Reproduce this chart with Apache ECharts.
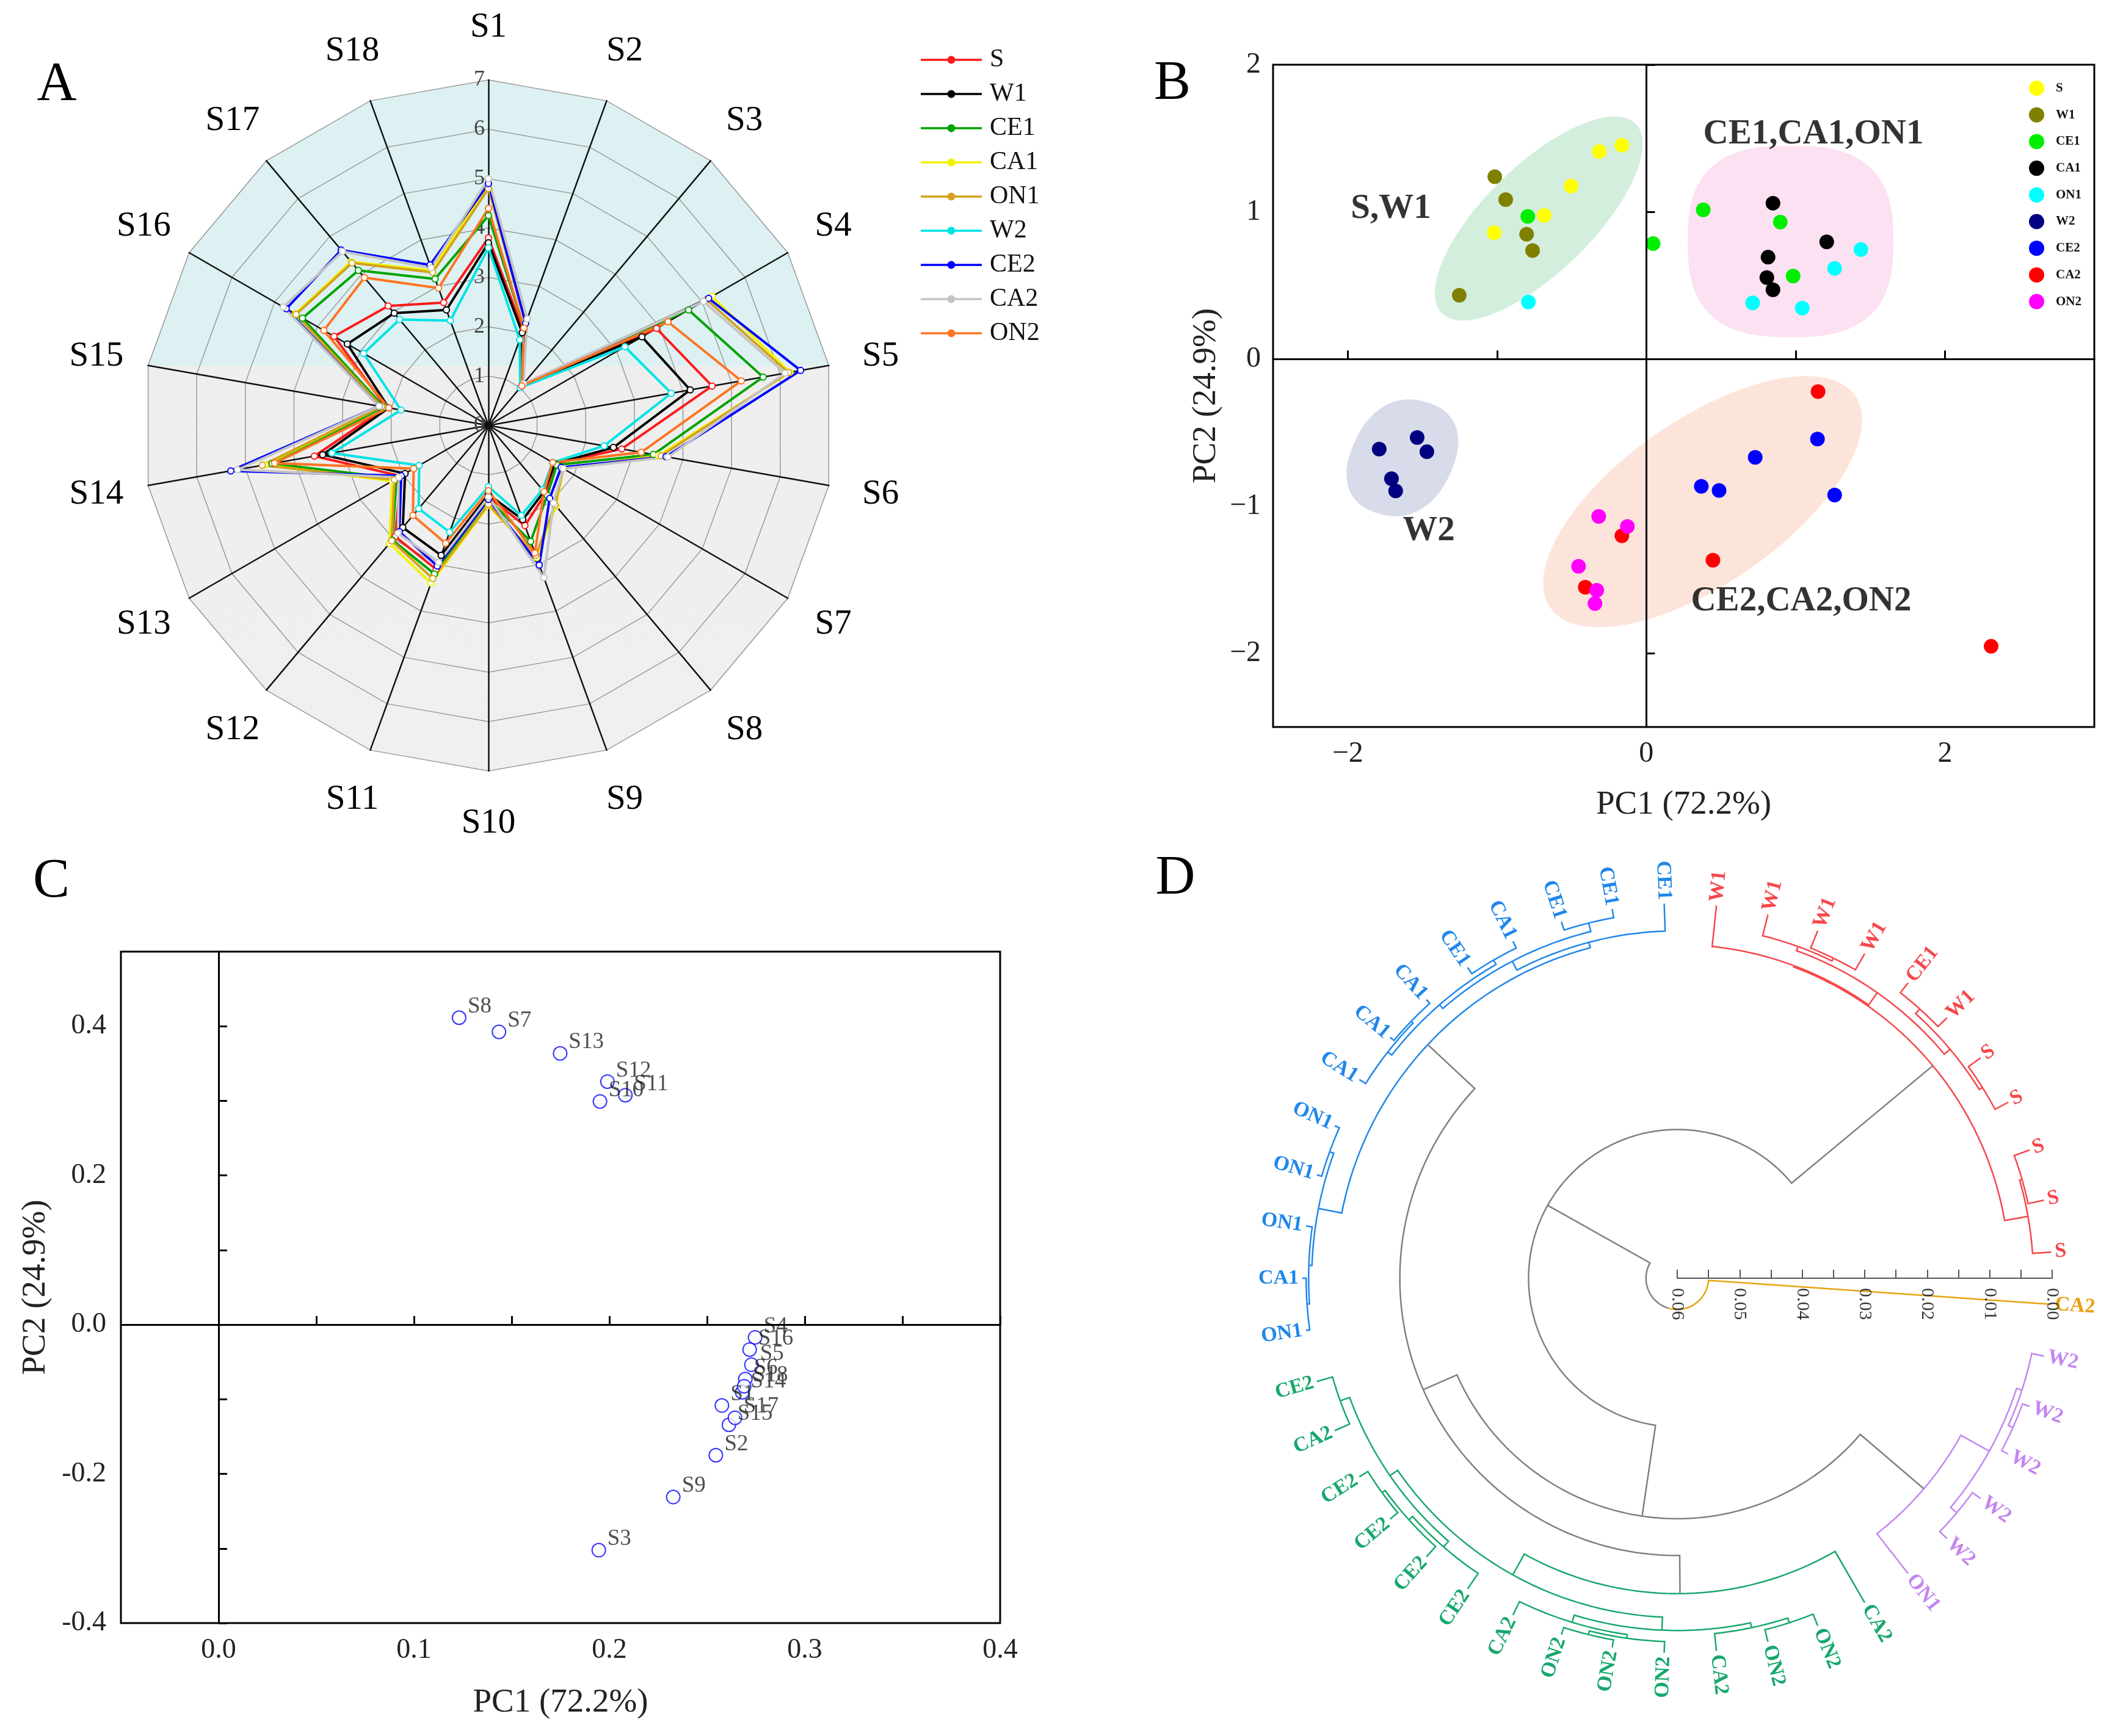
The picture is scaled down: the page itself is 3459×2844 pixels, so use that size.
<!DOCTYPE html>
<html><head><meta charset="utf-8">
<script src="https://cdn.jsdelivr.net/npm/echarts@6/dist/echarts.min.js"></script>
<style>html,body{margin:0;padding:0;background:#fff}#c{width:3459px;height:2844px}</style>
</head><body><div id="c"></div>
<script>
const SERIF = '"Liberation Serif","Times New Roman",serif';

// ---------- Panel A : radar ----------
const radarAxes = ['S1','S2','S3','S4','S5','S6','S7','S8','S9','S10','S11','S12','S13','S14','S15','S16','S17','S18'];
const groups = ['S','W1','CE1','CA1','ON1','W2','CE2','CA2','ON2'];
const radarS   = [3.8, 2.05, 1.05, 3.93, 4.6, 2.74, 1.55, 1.8, 2.16, 1.45, 3.1, 2.94, 2.05, 3.58, 2.1, 3.61, 3.16, 2.65];
const radarW1  = [3.7, 2.0, 1.05, 3.59, 4.15, 2.57, 1.55, 1.75, 2.03, 1.4, 2.8, 2.7, 1.95, 3.41, 2.05, 3.3, 2.97, 2.49];
const radarCE1 = [4.25, 2.1, 1.05, 4.68, 5.65, 3.39, 1.6, 1.85, 2.5, 1.5, 3.2, 3.03, 2.15, 4.45, 2.15, 4.35, 4.1, 3.16];
const radarCA1 = [4.9, 2.2, 1.05, 5.23, 6.2, 3.5, 1.75, 2.13, 2.85, 1.62, 3.4, 3.12, 2.25, 4.6, 2.2, 4.52, 4.33, 3.34];
const radarON1 = [4.8, 2.2, 1.05, 5.1, 6.17, 3.55, 1.75, 2.1, 2.8, 1.6, 3.3, 3.05, 2.2, 4.65, 2.2, 4.5, 4.3, 3.3];
const radarW2  = [3.6, 1.85, 1.0, 3.19, 3.76, 2.38, 1.5, 1.7, 1.94, 1.24, 2.3, 2.2, 1.62, 3.22, 1.8, 2.92, 2.8, 2.26];
const radarCE2 = [4.9, 2.2, 1.05, 5.15, 6.42, 3.65, 1.7, 1.93, 3.01, 1.5, 3.03, 2.81, 2.04, 5.3, 2.25, 4.73, 4.64, 3.46];
const radarCA2 = [5.0, 2.3, 1.1, 5.03, 6.1, 3.69, 1.75, 2.05, 3.28, 1.45, 2.95, 2.85, 2.1, 5.16, 2.25, 4.8, 4.6, 3.4];
const radarON2 = [4.4, 2.1, 1.05, 4.2, 5.2, 3.14, 1.5, 1.75, 2.75, 1.32, 2.54, 2.38, 1.75, 4.4, 2.05, 3.85, 3.91, 2.96];
const radarValues = [radarS, radarW1, radarCE1, radarCA1, radarON1, radarW2, radarCE2, radarCA2, radarON2];
const radarColors = ['#ff1a1a','#000000','#00a400','#f2f200','#d4a11c','#00e3e3','#0000ff','#c4c4c4','#ff7420'];

// ---------- Panel B : PCA scores ----------
const scoreS   = [[-0.315,1.41],[-0.164,1.453],[-0.504,1.176],[-0.684,0.976],[-1.019,0.858]];
const scoreW1  = [[-1.015,1.239],[-0.942,1.083],[-0.802,0.848],[-0.762,0.737],[-1.253,0.433]];
const scoreCE1 = [[-0.794,0.969],[0.045,0.785],[0.381,1.014],[0.897,0.931],[0.983,0.564]];
const scoreCA1 = [[0.848,1.059],[0.815,0.692],[0.807,0.554],[0.848,0.471],[1.208,0.796]];
const scoreON1 = [[-0.790,0.388],[0.712,0.381],[1.044,0.346],[1.261,0.616],[1.437,0.744]];
const scoreW2  = [[-1.789,-0.612],[-1.535,-0.533],[-1.470,-0.630],[-1.707,-0.813],[-1.679,-0.896]];
const scoreCE2 = [[0.368,-0.865],[0.487,-0.893],[0.729,-0.668],[1.146,-0.543],[1.261,-0.924]];
const scoreCA2 = [[1.150,-0.221],[-0.164,-1.201],[0.446,-1.367],[-0.409,-1.550],[2.309,-1.952]];
const scoreON2 = [[-0.319,-1.069],[-0.127,-1.138],[-0.454,-1.408],[-0.332,-1.571],[-0.344,-1.661]];
const scores = [scoreS, scoreW1, scoreCE1, scoreCA1, scoreON1, scoreW2, scoreCE2, scoreCA2, scoreON2];
const scoreColors = ['#ffff00','#808000','#00ee00','#000000','#00ffff','#000080','#0000ff','#ff0000','#ff00ff'];
// cluster regions: centre, half-axis u, half-axis v, squareness exponent
const regionCentres = [[-0.7206,0.955],[0.966,0.799],[-1.634,-0.671],[0.3767,-0.969]];
const regionAxisU = [[0.6264,0.662],[0.688,0],[0.164,0.377],[0.9838,0.7626]];
const regionAxisV = [[0.3038,-0.2055],[0,0.65],[0.3228,-0.1003],[0.4151,-0.3827]];
const regionPower = [2, 2.7, 2.3, 2];
const regionFill = ['#d4eedd','#fbe1f1','#d8dbea','#fde4da'];
const clusterNames = ['S,W1','CE1,CA1,ON1','W2','CE2,CA2,ON2'];
const clusterNamePos = [[-1.711,1.022],[1.119,1.526],[-1.457,-1.169],[1.037,-1.647]];

// ---------- Panel C : loadings ----------
const loadNames = radarAxes;
const loadPC1 = [0.2576,0.2545,0.1946,0.2746,0.2727,0.2696,0.1435,0.1231,0.2327,0.1952,0.2082,0.1990,0.1748,0.2680,0.2612,0.2718,0.2643,0.2690];
const loadPC2 = [-0.1084,-0.175,-0.3023,-0.017,-0.0538,-0.0729,0.3924,0.4114,-0.2311,0.2992,0.3076,0.3258,0.3636,-0.0907,-0.1343,-0.0334,-0.1248,-0.0825];

// ---------- Panel D : circular dendrogram ----------
const leafLabels = ['CA2','W2','W2','W2','W2','W2','ON1','CA2','ON2','ON2','CA2','ON2','ON2','ON2','CA2',
  'CE2','CE2','CE2','CE2','CA2','CE2','ON1','CA1','ON1','ON1','ON1','CA1','CA1','CA1','CE1','CA1','CE1','CE1','CE1',
  'W1','W1','W1','W1','CE1','W1','S','S','S','S','S'];
// [node, child, child, height]; numbers are leaf indices
const merges = [
 ['w2a',2,3,0.0012],['w2b',1,'w2a',0.0020],['w2c',4,5,0.0016],['w2','w2b','w2c',0.0029],['purple','w2',6,0.0081],
 ['p1',8,9,0.0020],['p2','p1',10,0.0028],['p3',12,13,0.0012],['p4',11,'p3',0.0018],['p5','p4',14,0.0024],['gH','p2','p5',0.0036],
 ['q2',17,18,0.0016],['q3',16,'q2',0.0022],['q4',15,'q3',0.0030],['q1',19,20,0.0026],['gI','q4','q1',0.0042],
 ['gG','gH','gI',0.0057],['green',7,'gG',0.0095],
 ['c1',21,22,0.0006],['c2','c1',23,0.0010],['c3',24,25,0.0008],['c4','c2','c3',0.0015],
 ['x1a',27,28,0.0008],['x1b',26,'x1a',0.0012],['x1c',29,30,0.0012],['x1','x1b','x1c',0.0020],['x2',31,32,0.0014],
 ['bx','x1','x2',0.0028],['bh','bx',33,0.0044],['blue','c4','bh',0.0053],
 ['r1',36,37,0.0030],['r2',35,'r1',0.0035],['r3',38,39,0.0020],['r4',40,41,0.0024],['r5','r3','r4',0.0030],
 ['r6','r2','r5',0.0042],['rz',34,'r6',0.0066],['s1',42,43,0.0026],['s2','s1',44,0.0030],['red','rz','s2',0.0068],
 ['E','green','blue',0.0156],['C','purple','E',0.0215],['A','C','red',0.0362],['root',0,'A',0.0550]
];
const dColors = ['#808080','#f5474b','#1f87ea','#17a86c','#c486ef','#e8a10c'];
const clusterColorIdx = {red:1, blue:2, green:3, purple:4};

// ---- tree layout (positions from leaf order) ----
const nodes = {};
leafLabels.forEach((l,i)=>{ nodes[i] = {leaf:true, h:0, pos:i}; });
merges.forEach(m=>{ nodes[m[0]] = {leaf:false, name:m[0], kids:[m[1],m[2]], h:m[3]}; });
function posOf(k){ const n=nodes[k]; if(n.pos===undefined) n.pos=(posOf(n.kids[0])+posOf(n.kids[1]))/2; return n.pos; }
function paint(k,col){ const n=nodes[k]; if(!n.leaf && clusterColorIdx[n.name]!==undefined) col=clusterColorIdx[n.name];
  n.col = (n.leaf && col===0) ? 5 : col; if(!n.leaf) n.kids.forEach(c=>paint(c,col)); }
posOf('root'); paint('root',0);
const edges = [];
merges.forEach(m=>{ const n=nodes[m[0]]; n.kids.forEach(c=>{ const ch=nodes[c];
  const col = n.col!==0 ? n.col : (ch.leaf ? ch.col : 0);
  edges.push([n.h, n.pos, ch.pos, ch.h, col]); }); });

const radarOrder = [0].concat(Array.from({length:17},(_,k)=>17-k)); // clockwise layout

const splitGrad = {type:'linear', x:0, y:0, x2:0, y2:2844, global:true,
  colorStops:[{offset:0,color:'#ddf1f3'},{offset:0.2106,color:'#ddf1f3'},{offset:0.2106,color:'#eeeeee'},{offset:1,color:'#f4f4f4'}]};

const chart = echarts.init(document.getElementById('c'));
const minus = v => v<0 ? '\u2212'+Math.abs(v) : String(v);

const option = {
  animation:false,
  backgroundColor:'#fff',
  textStyle:{fontFamily:SERIF},
  graphic:[
    {type:'text', x:93, y:140, style:{text:'A', font:'90px '+SERIF, fill:'#000', align:'center', verticalAlign:'middle'}},
    {type:'text', x:1920, y:138, style:{text:'B', font:'90px '+SERIF, fill:'#000', align:'center', verticalAlign:'middle'}},
    {type:'text', x:84, y:1445, style:{text:'C', font:'90px '+SERIF, fill:'#000', align:'center', verticalAlign:'middle'}},
    {type:'text', x:1925, y:1440, style:{text:'D', font:'90px '+SERIF, fill:'#000', align:'center', verticalAlign:'middle'}}
  ],
  legend:[
    {data:groups, orient:'vertical', left:1503, top:72, itemWidth:100, itemHeight:13, itemGap:14, selectedMode:false,
     icon:'path://M0,1.9H40V3.3H0Z M22.6,2.6A2.6,2.6 0 1 1 17.4,2.6A2.6,2.6 0 1 1 22.6,2.6Z',
     textStyle:{fontFamily:SERIF, fontSize:42, color:'#111', padding:[0,0,0,8]}},
    {data:groups.map(g=>'B:'+g), formatter:n=>n.slice(2), orient:'vertical', left:3318, top:127, itemWidth:25, itemHeight:25,
     itemGap:18.7, icon:'circle', selectedMode:false,
     textStyle:{fontFamily:SERIF, fontSize:21, fontWeight:'bold', color:'#111', padding:[0,0,0,14]}}
  ],
  radar:{
    center:[800,697], radius:566, startAngle:90, splitNumber:7, shape:'polygon',
    indicator: radarOrder.map((k,j)=>{ const o={name:radarAxes[k], min:0, max:7}; if(j===0) o.axisLabel={show:true}; return o; }),
    axisName:{color:'#000', fontSize:57, fontFamily:SERIF, align:'center', verticalAlign:'middle'},
    nameGap:86,
    axisLine:{lineStyle:{color:'#111', width:2.5}},
    splitLine:{lineStyle:{color:'#9a9a9a', width:1.5}},
    splitArea:{show:true, areaStyle:{color:[splitGrad]}},
    axisTick:{show:false},
    axisLabel:{show:false, fontSize:36, color:'#444', fontFamily:SERIF, margin:6}
  },
  grid:[
    {left:2085, top:106, width:1345, height:1085, show:true, borderColor:'#000', borderWidth:3, backgroundColor:'transparent'},
    {left:198, top:1559, width:1440, height:1100, show:true, borderColor:'#000', borderWidth:3, backgroundColor:'transparent'}
  ],
  xAxis:[
    {gridIndex:0, type:'value', min:-2.5, max:3, interval:0.5,
     name:'PC1 (72.2%)', nameLocation:'middle', nameGap:100, nameTextStyle:{fontSize:55, fontFamily:SERIF, color:'#222'},
     axisLine:{lineStyle:{color:'#000', width:3}},
     axisTick:{inside:true, length:14, lineStyle:{color:'#000', width:3}, customValues:[-2,-1,0,1,2]},
     axisLabel:{fontSize:48, fontFamily:SERIF, color:'#222', margin:20, customValues:[-2,0,2],
       formatter:v=>([-2,0,2].indexOf(v)>=0 ? minus(v) : '')},
     splitLine:{show:false}},
    {gridIndex:1, type:'value', min:-0.05, max:0.4, interval:0.05,
     name:'PC1 (72.2%)', nameLocation:'middle', nameGap:103, nameTextStyle:{fontSize:55, fontFamily:SERIF, color:'#222'},
     axisLine:{lineStyle:{color:'#000', width:3}},
     axisTick:{inside:true, length:14, lineStyle:{color:'#000', width:3}, customValues:[0,0.05,0.1,0.15,0.2,0.25,0.3,0.35,0.4]},
     axisLabel:{fontSize:46, fontFamily:SERIF, color:'#222', margin:22, customValues:[0,0.1,0.2,0.3,0.4],
       formatter:v=>(Math.abs(Math.round(v*100))%10===0 && v>-0.001 ? v.toFixed(1) : '')},
     splitLine:{show:false}}
  ],
  yAxis:[
    {gridIndex:0, type:'value', min:-2.5, max:2, interval:0.5,
     name:'PC2 (24.9%)', nameLocation:'middle', nameGap:82, nameRotate:90, nameTextStyle:{fontSize:55, fontFamily:SERIF, color:'#222'},
     axisLine:{lineStyle:{color:'#000', width:3}},
     axisTick:{inside:true, length:14, lineStyle:{color:'#000', width:3}, customValues:[-2,-1,0,1,2]},
     axisLabel:{fontSize:48, fontFamily:SERIF, color:'#222', margin:20, customValues:[-2,-1,0,1,2],
       formatter:v=>(Math.abs(v%1)<1e-9 && v>=-2 ? minus(v) : '')},
     splitLine:{show:false}},
    {gridIndex:1, type:'value', min:-0.4, max:0.5, interval:0.1,
     name:'PC2 (24.9%)', nameLocation:'middle', nameGap:112, nameRotate:90, nameTextStyle:{fontSize:55, fontFamily:SERIF, color:'#222'},
     axisLine:{lineStyle:{color:'#000', width:3}},
     axisTick:{inside:true, length:14, lineStyle:{color:'#000', width:3}, customValues:[-0.4,-0.3,-0.2,-0.1,0,0.1,0.2,0.3,0.4]},
     axisLabel:{fontSize:46, fontFamily:SERIF, color:'#222', margin:24, customValues:[-0.4,-0.2,0,0.2,0.4],
       formatter:v=>(Math.abs(Math.round(v*10))%2===0 && v<0.45 ? (Math.abs(v)<1e-9?'0.0':v.toFixed(1)) : '')},
     splitLine:{show:false}}
  ],
  polar:{center:[2747,2094], radius:614},
  angleAxis:{type:'value', min:-0.5, max:44.5, startAngle:0, clockwise:true, show:false},
  radiusAxis:{type:'value', min:0, max:0.06, inverse:true, interval:0.005, z:5,
    axisLine:{show:true, lineStyle:{color:'#555', width:2}},
    axisTick:{show:true, length:14, lineStyle:{color:'#555', width:2}},
    axisLabel:{show:true, rotate:-90, fontSize:30, fontFamily:SERIF, color:'#333', margin:-16, align:'left', verticalAlign:'middle',
      formatter:v=>(Math.round(v*1000)%10===0 ? v.toFixed(2) : '')},
    splitLine:{show:false}},
  series:[]
};

// A
option.series.push({type:'radar', radarIndex:0, symbol:'emptyCircle', symbolSize:10, z:3,
  data: groups.map((g,k)=>({name:g, value: radarOrder.map(i=>radarValues[k][i]),
    lineStyle:{color:radarColors[k], width:4}, itemStyle:{color:radarColors[k], borderWidth:2}}))});

// B regions
option.series.push({type:'custom', name:'regions', xAxisIndex:0, yAxisIndex:0, z:1, silent:true,
  data: regionCentres.map((c,i)=>[c[0],c[1],i]),
  renderItem:(params,api)=>{
    const i=api.value(2), c=regionCentres[i], u=regionAxisU[i], v=regionAxisV[i], p=regionPower[i];
    const f=s=>Math.sign(s)*Math.pow(Math.abs(s),2/p);
    const pts=[];
    for(let k=0;k<160;k++){ const t=2*Math.PI*k/160, a=f(Math.cos(t)), b=f(Math.sin(t));
      pts.push(api.coord([c[0]+u[0]*a+v[0]*b, c[1]+u[1]*a+v[1]*b])); }
    return {type:'polygon', shape:{points:pts}, style:{fill:regionFill[i], stroke:null}};
  }});
option.series.push({type:'scatter', name:'zeroB', xAxisIndex:0, yAxisIndex:0, z:2, symbolSize:0, data:[[0,0]], silent:true,
  markLine:{silent:true, symbol:'none', label:{show:false}, lineStyle:{color:'#000', width:3, type:'solid'},
    data:[{xAxis:0},{yAxis:0}]}});
groups.forEach((g,k)=>{
  option.series.push({type:'scatter', name:'B:'+g, xAxisIndex:0, yAxisIndex:0, z:3, symbolSize:24,
    itemStyle:{color:scoreColors[k], opacity:1}, data:scores[k]});
});
option.series.push({type:'scatter', name:'clusterText', xAxisIndex:0, yAxisIndex:0, z:4, symbolSize:1, silent:true,
  itemStyle:{color:'rgba(0,0,0,0)'},
  data: clusterNames.map((n,i)=>({name:n, value:clusterNamePos[i]})),
  label:{show:true, position:'inside', formatter:'{b}', fontFamily:SERIF, fontWeight:'bold', fontSize:57, color:'#000'}});

// C
option.series.push({type:'scatter', name:'zeroC', xAxisIndex:1, yAxisIndex:1, z:2, symbolSize:0, data:[[0,0]], silent:true,
  markLine:{silent:true, symbol:'none', label:{show:false}, lineStyle:{color:'#000', width:3, type:'solid'},
    data:[{xAxis:0},{yAxis:0}]}});
option.series.push({type:'scatter', name:'loadings', xAxisIndex:1, yAxisIndex:1, z:3, symbol:'emptyCircle', symbolSize:22,
  itemStyle:{color:'#0000ff', borderWidth:3.5},
  data: loadNames.map((n,i)=>({name:n, value:[loadPC1[i], loadPC2[i]]})),
  label:{show:true, position:'right', distance:2, offset:[0,-18], formatter:'{b}', fontFamily:SERIF, fontSize:37, color:'#222'}});

// D
option.series.push({type:'custom', name:'dendro', coordinateSystem:'polar', polarIndex:0, z:3, silent:true,
  data: edges,
  renderItem:(params,api)=>{
    const h0=api.value(0), p0=api.value(1), p1=api.value(2), h1=api.value(3), col=dColors[api.value(4)];
    const n=Math.max(2, Math.ceil(Math.abs(p1-p0)*6)); const pts=[];
    for(let k=0;k<=n;k++) pts.push(api.coord([h0, p0+(p1-p0)*k/n]));
    pts.push(api.coord([h1,p1]));
    return {type:'polyline', shape:{points:pts}, style:{stroke:col, lineWidth:2.5, fill:null}};
  }});
option.series.push({type:'custom', name:'leafLabels', coordinateSystem:'polar', polarIndex:0, z:3, silent:true,
  data: leafLabels.map((l,i)=>[0,i,nodes[i].col]),
  renderItem:(params,api)=>{
    const i=api.value(1); const tip=api.coord([0,i]); const c=api.coord([0.06,i]);
    let dx=tip[0]-c[0], dy=tip[1]-c[1]; const L=Math.hypot(dx,dy); dx/=L; dy/=L;
    let rot=Math.atan2(-dy,dx); let align='left';
    if(dx<0){ rot+=Math.PI; align='right'; }
    return {type:'text', x:tip[0]+dx*6, y:tip[1]+dy*6, rotation:rot,
      style:{text:leafLabels[i], fill:dColors[api.value(2)], font:'bold 34px '+SERIF, align:align, verticalAlign:'middle'}};
  }});

chart.setOption(option);
</script></body></html>
